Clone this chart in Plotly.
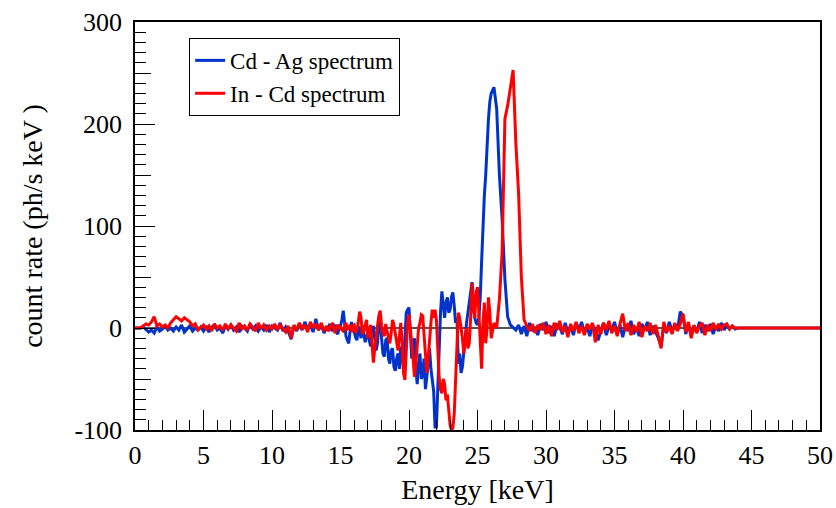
import numpy as np
import plotly.graph_objects as go

# Energy grid (keV): 0.2 keV bins, 0.1 keV bins in the busy 14-26 keV region
energy = np.round(np.concatenate([
    np.arange(0.0, 13.9, 0.2),
    np.arange(14.0, 25.95, 0.1),
    np.arange(26.0, 50.01, 0.2),
]), 1)

# Cd - Ag difference spectrum (ph/s keV)
cd_ag = [
    # 0 - 13.8 keV (0.2 keV)
    0, 0, 0, 1, -2, -4, -2, -5, 1, -3,
    -1, 2, -2, 0, -3, 1, -2, 3, -4, -1,
    2, -3, 0, -2, 1, -3, 2, -4, 1, 3,
    -2, 0, -5, 2, -1, 3, -2, 1, -4, 2,
    0, -3, 4, -1, 2, -3, 1, -2, 3, -4,
    2, 0, -2, 5, -3, 1, -4, -11, 2, -3,
    4, -2, 6, -1, 3, -4, 9, -2, 3, -5,
    # 14.0 - 25.9 keV (0.1 keV)
    1, -2, 4, 0, -3, 3, 2, -4, -6, 1,
    2, 8, 17, 5, -8, -12, -15, -3, 6, -2,
    -4, -9, -12, 2, -6, -10, 3, -5, -14, -8,
    -5, -12, -18, -6, 2, -10, -22, -15, 11, 4,
    -15, -25, -28, -12, -10, -30, -35, -22, -20, -38,
    -42, -30, -25, -40, -18, -26, -38, -10, 15, 18,
    20, -5, -30, -18, -10, -40, -55, -35, -25, -50,
    -45, -30, -60, -48, -35, -20, -40, -55, -62, -97,
    -97, -60, -15, 15, 36, 20, 10, 25, 30, 15,
    18, 30, 35, 22, 5, 10, -35, -25, -44, -38,
    -20, -10, 5, 15, 20, 35, 45, 30, 10, 5,
    3, 10, 30, 65, 100, 130, 150, 185, 205, 222,
    # 26.0 - 50.0 keV (0.2 keV)
    230, 236, 215, 150, 106, 48, 11, 3, 0, -2,
    3, -6, 2, -8, 5, -3, 1, -7, 4, -2,
    6, -5, 2, -8, 3, 1, -6, 5, -4, 2,
    -7, 5, -2, 6, -5, 1, -8, 3, -2, -12,
    -3, 5, -7, 2, -2, 6, -5, 3, -9, 2,
    -3, 7, -6, 1, -8, 4, -2, 6, -7, 2,
    -4, -10, -18, 3, -5, 6, -3, 2, -2, 16,
    12, -6, 4, -8, 2, -4, 6, -5, 3, -3,
    4, -6, 2, -3, 5, -2, 3, -1, 2, -1,
    0, 0, 0, 0, 0, 0, 0, 0, 0, 0,
    0, 0, 0, 0, 0, 0, 0, 0, 0, 0,
    0, 0, 0, 0, 0, 0, 0, 0, 0, 0,
    0,
]

# In - Cd difference spectrum (ph/s keV)
in_cd = [
    # 0 - 13.8 keV (0.2 keV)
    0, 0, 0, 2, 4, 3, 6, 11, 2, 4,
    1, 3, 0, 5, 8, 11, 9, 7, 10, 8,
    6, 2, 4, -2, 1, 3, -1, 2, -3, 4,
    0, 2, -2, 4, -1, 3, 0, -3, 5, -1,
    2, -2, 4, 0, -3, 5, -1, 3, -2, 2,
    -1, 4, -2, 3, 0, -4, 2, -10, 3, -2,
    5, -1, 3, -4, 6, 0, 4, -2, 5, -3,
    # 14.0 - 25.9 keV (0.1 keV)
    2, -3, -1, 3, 4, -2, -5, 1, 3, 0,
    1, -2, -3, 2, 5, -1, 0, 3, -4, 2,
    3, -5, -2, 6, 16, 10, -6, -3, 2, 8,
    -10, -4, 3, -15, -34, -20, -5, 2, 12, 17,
    2, -5, -8, 4, -3, -10, -15, -5, 8, 3,
    -5, -12, -22, -8, 5, -15, -44, -51, -20, 5,
    13, -5, -15, -30, -48, -35, -20, 0, 5, 13,
    12, -5, -25, -44, -30, -10, 5, 18, 10, 18,
    8, -20, -48, -60, -64, -50, -55, -71, -65, -80,
    -95, -100, -98, -85, -50, -20, 15, 10, 2, -10,
    -25, -10, 0, -20, -15, 10, 44, 20, 10, 35,
    40, 15, -12, -40, 5, 25, -15, 0, 30, 15,
    # 26.0 - 50.0 keV (0.2 keV)
    -10, 5, 0, 28, 75, 205, 218, 235, 253, 181,
    132, 50, 8, 2, -3, 4, -5, 3, -2, 5,
    -6, 3, -8, 5, -2, 7, -4, 2, -9, 4,
    -3, 6, -5, 2, -7, 4, -1, 5, -14, 3,
    -6, 5, -2, 7, -5, 2, -8, 4, 14, -3,
    5, -7, 3, -4, 6, -9, 2, -3, 5, -6,
    3, -8, -20, 6, -4, 2, -6, 5, -3, 4,
    14, -4, 6, -10, 3, -5, 2, 5, -7, 3,
    -3, 5, -2, 4, -1, 3, 4, -1, 2, 0,
    0, 0, 0, 0, 0, 0, 0, 0, 0, 0,
    0, 0, 0, 0, 0, 0, 0, 0, 0, 0,
    0, 0, 0, 0, 0, 0, 0, 0, 0, 0,
    0,
]

y_major = [-100, 0, 100, 200, 300]
y_major_text = ["-100", "0", "100", "200", "300"]
y_mid = [-50, 50, 150, 250]

FONT = "Liberation Serif, Times New Roman, serif"

fig = go.Figure()
fig.add_trace(go.Scatter(x=energy, y=cd_ag, mode="lines", name="Cd - Ag spectrum",
                         line=dict(color="#0033cc", width=3)))
fig.add_trace(go.Scatter(x=energy, y=in_cd, mode="lines", name="In - Cd spectrum",
                         line=dict(color="#ff0000", width=3)))
fig.add_trace(go.Scatter(x=[], y=[], yaxis="y2", showlegend=False, hoverinfo="skip"))

fig.update_layout(
    width=836, height=508,
    margin=dict(l=135, r=16, t=22, b=78, autoexpand=False),
    paper_bgcolor="white", plot_bgcolor="white",
    font=dict(family=FONT, color="black", size=26),
    showlegend=True,
    legend=dict(x=0.079, y=0.961, xanchor="left", yanchor="top",
                bordercolor="black", borderwidth=1, bgcolor="white",
                font=dict(size=23, family=FONT), tracegroupgap=0),
    xaxis=dict(range=[0, 50], dtick=5, tick0=0, ticks="inside", ticklen=20,
               tickwidth=1.2, tickcolor="black", showline=True, linecolor="black",
               linewidth=1.5, mirror=True, showgrid=False, zeroline=False,
               automargin=False,
               minor=dict(dtick=1, ticks="inside", ticklen=10, tickwidth=1.2,
                          tickcolor="black", showgrid=False),
               title=dict(text="Energy [keV]", font=dict(size=28, family=FONT), standoff=10),
               tickfont=dict(size=26, family=FONT), ticklabelstandoff=1),
    yaxis=dict(range=[-100, 300], tickvals=y_major, ticktext=y_major_text,
               ticks="inside", ticklen=20, automargin=False,
               tickwidth=1.2, tickcolor="black", showline=True, linecolor="black",
               linewidth=1.5, mirror=True, showgrid=False,
               zeroline=True, zerolinecolor="#555555", zerolinewidth=1.5,
               minor=dict(dtick=10, ticks="inside", ticklen=11, tickwidth=1.2,
                          tickcolor="black", showgrid=False),
               title=dict(text="count rate (ph/s keV )", font=dict(size=28, family=FONT), standoff=24),
               tickfont=dict(size=26, family=FONT), ticklabelstandoff=6),
    yaxis2=dict(range=[-100, 300], overlaying="y", side="left", anchor="x",
                tickvals=y_mid, ticks="inside", ticklen=16, tickwidth=1.2,
                tickcolor="black", showticklabels=False, showline=False,
                showgrid=False, zeroline=False, automargin=False),
)

fig.write_html("out.html")
